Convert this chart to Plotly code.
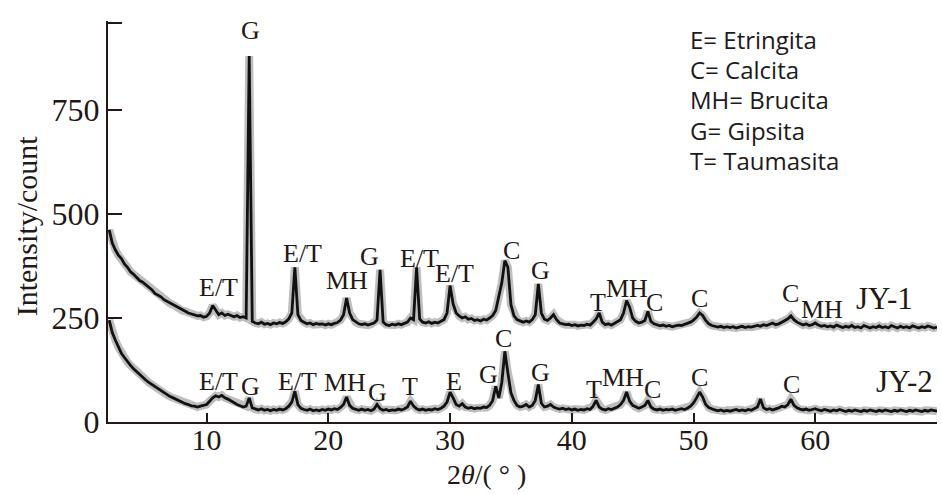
import plotly.graph_objects as go

# ---------------- data ----------------
theta_start = 2.0
theta_step = 0.25

jy1 = [
    462, 430, 414, 401, 393, 380, 372, 361,
    355, 348, 340, 336, 330, 322, 318, 309,
    305, 301, 294, 290, 285, 282, 276, 273,
    268, 266, 262, 260, 258, 255, 256, 252,
    254, 262, 280, 268, 258, 262, 256, 259,
    255, 253, 256, 251, 253, 250, 880, 242,
    238, 236, 240, 235, 237, 234, 238, 236,
    239, 237, 241, 248, 262, 372, 258, 244,
    240, 236, 238, 234, 237, 235, 236, 233,
    236, 234, 237, 239, 245, 258, 298, 262,
    246, 240, 236, 234, 236, 233, 235, 238,
    245, 366, 240, 234, 232, 235, 233, 236,
    234, 237, 240, 250, 246, 372, 248, 240,
    238, 241, 237, 240, 238, 242, 246, 262,
    328, 284, 262, 255, 250, 253, 247, 249,
    244, 246, 243, 247, 245, 250, 256, 268,
    298, 335, 388, 372, 282, 255, 246, 242,
    240, 243, 240, 246, 258, 332, 262, 247,
    244, 250, 258, 246, 238, 236, 234, 235,
    232, 234, 231, 233, 232, 235, 233, 240,
    248, 262, 240, 234, 236, 233, 237, 240,
    246, 262, 292, 276, 250, 242, 238, 240,
    244, 266, 242, 236, 233, 231, 233, 230,
    232, 229, 231, 233, 232, 235, 237, 240,
    245, 252, 262, 256, 244, 236, 232, 230,
    228, 230, 227, 229, 227, 229, 226, 228,
    230, 227, 229, 228, 230, 232, 230, 234,
    232, 235, 238, 234, 236, 240, 244, 248,
    255, 246, 240, 236, 233, 236, 232, 234,
    238, 233, 230, 232, 229, 231, 228, 233,
    229, 227, 230, 228, 232, 227, 229, 226,
    232, 228, 226, 229, 227, 231, 227, 229,
    226, 232, 228, 226, 230, 227, 229, 226,
    231, 228, 226, 229, 227, 231, 228, 226,
    228,
]

jy2 = [
    245, 215, 197, 180, 165, 155, 144, 136,
    128, 121, 113, 107, 101, 95, 90, 84,
    80, 74, 70, 65, 61, 58, 54, 50,
    47, 44, 42, 39, 38, 36, 38, 40,
    42, 50, 58, 63, 60, 64, 58, 55,
    50, 46, 42, 39, 36, 38, 58, 34,
    31, 29, 32, 28, 30, 27, 30, 28,
    31, 29, 32, 38, 48, 74, 42, 33,
    30, 28, 31, 27, 29, 27, 30, 28,
    31, 29, 32, 30, 35, 42, 60, 40,
    33, 30, 28, 31, 28, 30, 27, 31,
    42, 32, 28, 30, 27, 29, 28, 31,
    29, 32, 36, 50, 38, 32, 29, 31,
    28, 30, 29, 32, 30, 33, 38, 48,
    72, 58, 42, 38, 44, 36, 33, 35,
    32, 34, 33, 36, 35, 40, 52, 86,
    58, 95, 170, 118, 70, 52, 40, 36,
    38, 42, 36, 40, 52, 90, 45, 36,
    38, 42, 36, 33, 31, 33, 30, 32,
    29, 31, 28, 30, 29, 32, 30, 38,
    52, 36, 31, 29, 32, 30, 33, 36,
    42, 52, 72, 50, 40, 36, 33, 36,
    40, 52, 36, 31, 29, 31, 28, 30,
    29, 31, 28, 30, 32, 30, 33, 38,
    46, 58, 72, 60, 42, 35, 31, 29,
    27, 29, 26, 28, 26, 28, 30, 27,
    29, 27, 30, 28, 32, 36, 55, 34,
    30, 32, 29, 31, 34, 38, 36, 42,
    55, 40, 34, 31, 29, 31, 28, 30,
    32, 29, 27, 30, 28, 26, 29, 27,
    30, 27, 25, 28, 26, 29, 27, 25,
    28, 26, 29, 27, 25, 28, 26, 29,
    27, 25, 28, 26, 29, 27, 25, 28,
    26, 29, 27, 25, 28, 26, 29, 27,
    26,
]

theta = [theta_start + theta_step * i for i in range(len(jy1))]

# phase labels: (text, 2theta, intensity)
labels_jy1 = [
    ("E/T", 10.96, 324), ("G", 13.57, 941), ("E/T", 17.84, 406),
    ("MH", 21.53, 341), ("G", 23.34, 399), ("E/T", 27.52, 394),
    ("E/T", 30.4, 358), ("C", 35.08, 413), ("G", 37.46, 365),
    ("T", 42.14, 288), ("MH", 44.52, 322), ("C", 46.82, 288),
    ("C", 50.52, 298), ("C", 57.99, 310), ("MH", 60.53, 271),
]
labels_jy2 = [
    ("E/T", 10.96, 98), ("G", 13.57, 86), ("E/T", 17.43, 98),
    ("MH", 21.37, 96), ("G", 24.0, 72), ("T", 26.7, 86),
    ("E", 30.32, 98), ("G", 33.19, 115), ("C", 34.42, 201),
    ("G", 37.46, 118), ("T", 41.8, 79), ("MH", 44.2, 108),
    ("C", 46.65, 79), ("C", 50.52, 106), ("C", 58.07, 91),
]
series_names = [("JY-1", 65.7, 298), ("JY-2", 67.34, 98)]

legend_lines = ["E= Etringita", "C= Calcita", "MH= Brucita", "G= Gipsita", "T= Taumasita"]

y_tickvals = [0, 250, 500, 750, 960]
y_ticktext = ["0", "250", "500", "750", ""]
x_tickvals = [10, 20, 30, 40, 50, 60]

# ---------------- figure ----------------
SERIF = "Liberation Serif, Times New Roman, serif"
INK = "#231815"

fig = go.Figure()
for ys in (jy1, jy2):
    fig.add_trace(go.Scatter(x=theta, y=ys, mode="lines",
                             line=dict(color="rgba(70,70,70,0.35)", width=8),
                             hoverinfo="skip", showlegend=False))
    fig.add_trace(go.Scatter(x=theta, y=ys, mode="lines",
                             line=dict(color="#111111", width=2.8),
                             showlegend=False))

annotations = []
for txt, xv, yv in labels_jy1 + labels_jy2:
    annotations.append(dict(x=xv, y=yv, xref="x", yref="y", text=txt, showarrow=False,
                            xanchor="center", yanchor="middle",
                            font=dict(family=SERIF, size=26, color=INK)))
for txt, xv, yv in series_names:
    annotations.append(dict(x=xv, y=yv, xref="x", yref="y", text=txt, showarrow=False,
                            xanchor="center", yanchor="middle",
                            font=dict(family=SERIF, size=31, color=INK)))

leg_y = [0.955, 0.880, 0.805, 0.728, 0.653]
for txt, yp in zip(legend_lines, leg_y):
    annotations.append(dict(x=0.70, y=yp, xref="paper", yref="paper", text=txt,
                            showarrow=False, xanchor="left", yanchor="middle",
                            font=dict(family="Open Sans, sans-serif", size=24, color="#1e1a1c")))

# axis titles
annotations.append(dict(x=-0.098, y=0.49, xref="paper", yref="paper",
                        text="Intensity/count", textangle=-90, showarrow=False,
                        xanchor="center", yanchor="middle",
                        font=dict(family=SERIF, size=30, color=INK)))
annotations.append(dict(x=0.457, y=-0.132, xref="paper", yref="paper",
                        text="2<i>θ</i>/( ° )", showarrow=False,
                        xanchor="center", yanchor="middle",
                        font=dict(family=SERIF, size=28, color=INK)))

fig.update_layout(
    width=942, height=494,
    margin=dict(l=108, r=5, t=21, b=72),
    paper_bgcolor="white", plot_bgcolor="white",
    annotations=annotations,
    xaxis=dict(range=[1.9, 70.0], tickvals=x_tickvals, ticks="inside", ticklen=9,
               tickwidth=1.5, tickcolor=INK, showline=True, linecolor=INK, linewidth=2,
               showgrid=False, zeroline=False, ticklabelstandoff=-10,
               tickfont=dict(family=SERIF, size=30, color=INK)),
    yaxis=dict(range=[0, 964], tickvals=y_tickvals, ticktext=y_ticktext, ticks="inside",
               ticklen=14, tickwidth=1.5, tickcolor=INK, showline=True, linecolor=INK,
               linewidth=2, showgrid=False, zeroline=False,
               tickfont=dict(family=SERIF, size=32, color=INK)),
)

fig.write_html("out.html")
